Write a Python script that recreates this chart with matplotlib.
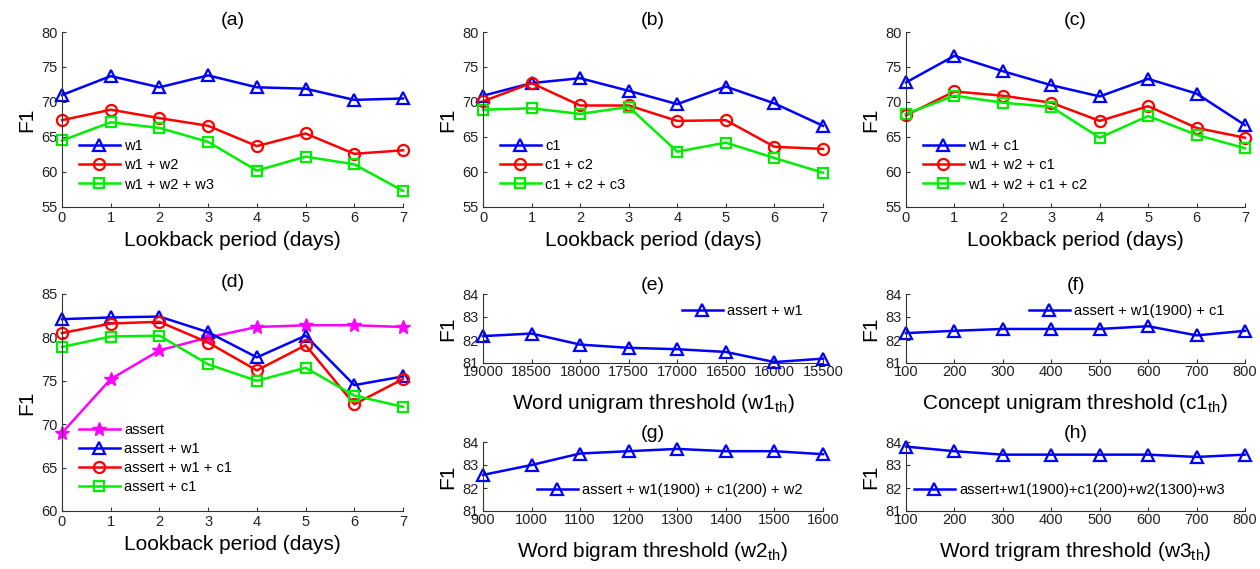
import numpy as np
import matplotlib
matplotlib.use("Agg")
import matplotlib.pyplot as plt

plt.rcParams['font.family'] = ['Liberation Sans', 'DejaVu Sans']

# ---- data ----
days = [0, 1, 2, 3, 4, 5, 6, 7]

a_w1 = [71.0, 73.7, 72.1, 73.8, 72.1, 71.9, 70.3, 70.5]
a_w1w2 = [67.4, 68.9, 67.7, 66.6, 63.7, 65.5, 62.6, 63.1]
a_w1w2w3 = [64.5, 67.1, 66.3, 64.3, 60.2, 62.2, 61.1, 57.3]

b_c1 = [70.9, 72.7, 73.4, 71.6, 69.7, 72.2, 69.8, 66.6]
b_c1c2 = [70.1, 72.7, 69.5, 69.5, 67.3, 67.4, 63.6, 63.3]
b_c1c2c3 = [68.9, 69.1, 68.3, 69.3, 62.9, 64.2, 62.0, 59.9]

c_w1c1 = [72.8, 76.6, 74.4, 72.4, 70.8, 73.3, 71.2, 66.7]
c_w1w2c1 = [68.1, 71.5, 70.9, 69.9, 67.3, 69.4, 66.3, 64.9]
c_w1w2c1c2 = [68.3, 70.9, 69.9, 69.3, 64.9, 68.0, 65.3, 63.4]

d_assert = [69.0, 75.2, 78.5, 80.0, 81.2, 81.4, 81.4, 81.2]
d_assert_w1 = [82.1, 82.3, 82.4, 80.6, 77.7, 80.2, 74.5, 75.5]
d_assert_w1c1 = [80.5, 81.6, 81.8, 79.4, 76.2, 79.1, 72.3, 75.2]
d_assert_c1 = [78.9, 80.1, 80.2, 76.9, 75.0, 76.5, 73.3, 72.0]

e_thr = [19000, 18500, 18000, 17500, 17000, 16500, 16000, 15500]
e_f1 = [82.17, 82.28, 81.80, 81.66, 81.60, 81.48, 81.04, 81.19]

f_thr = [100, 200, 300, 400, 500, 600, 700, 800]
f_f1 = [82.30, 82.40, 82.48, 82.48, 82.48, 82.60, 82.20, 82.40]

g_thr = [900, 1000, 1100, 1200, 1300, 1400, 1500, 1600]
g_f1 = [82.57, 83.00, 83.50, 83.60, 83.70, 83.60, 83.60, 83.47]

h_thr = [100, 200, 300, 400, 500, 600, 700, 800]
h_f1 = [83.80, 83.60, 83.45, 83.45, 83.45, 83.45, 83.35, 83.45]

BLUE, RED, GREEN, MAG = '#0000ff', '#ff0000', '#00ee00', '#ff00ff'
W, H = 1260, 569

fig = plt.figure(figsize=(W / 100, H / 100), dpi=100)


def make_ax(left, top, right, bottom, xpad=3):
    ax = fig.add_axes([left / W, 1 - bottom / H, (right - left) / W, (bottom - top) / H])
    for s in ['top', 'right']:
        ax.spines[s].set_visible(False)
    for s in ['left', 'bottom']:
        ax.spines[s].set_color('#333333')
        ax.spines[s].set_linewidth(0.8)
    ax.tick_params(direction='in', length=3, labelsize=10.5, colors='#333333',
                   labelcolor='#222222', pad=3)
    ax.tick_params(axis='x', pad=xpad)
    ax.set_ylabel('F1', fontsize=15, labelpad=4)
    return ax


def line(ax, x, y, color, marker, label, ms=8):
    ax.plot(x, y, color=color, marker=marker, markersize=ms, markerfacecolor='none',
            markeredgewidth=1.6, linewidth=1.8, label=label, clip_on=False)


def legend(ax, **kw):
    ax.legend(frameon=False, fontsize=10.5, handlelength=2.8, handletextpad=0.3,
              labelspacing=0.35, borderpad=0.2, **kw)


# (a)
ax = make_ax(62, 32, 403, 207)
line(ax, days, a_w1, BLUE, '^', 'w1')
line(ax, days, a_w1w2, RED, 'o', 'w1 + w2')
line(ax, days, a_w1w2w3, GREEN, 's', 'w1 + w2 + w3', ms=7)
ax.set_xlim(0, 7); ax.set_ylim(55, 80)
ax.set_yticks([55, 60, 65, 70, 75, 80]); ax.set_xticks(days)
ax.set_title('(a)', fontsize=14, pad=5)
ax.set_xlabel('Lookback period (days)', fontsize=15, labelpad=4)
legend(ax, loc='lower left', bbox_to_anchor=(0.02, 0.03))

# (b)
ax = make_ax(483, 32, 823, 207)
line(ax, days, b_c1, BLUE, '^', 'c1')
line(ax, days, b_c1c2, RED, 'o', 'c1 + c2')
line(ax, days, b_c1c2c3, GREEN, 's', 'c1 + c2 + c3', ms=7)
ax.set_xlim(0, 7); ax.set_ylim(55, 80)
ax.set_yticks([55, 60, 65, 70, 75, 80]); ax.set_xticks(days)
ax.set_title('(b)', fontsize=14, pad=5)
ax.set_xlabel('Lookback period (days)', fontsize=15, labelpad=4)
legend(ax, loc='lower left', bbox_to_anchor=(0.02, 0.03))

# (c)
ax = make_ax(906, 32, 1245, 207)
line(ax, days, c_w1c1, BLUE, '^', 'w1 + c1')
line(ax, days, c_w1w2c1, RED, 'o', 'w1 + w2 + c1')
line(ax, days, c_w1w2c1c2, GREEN, 's', 'w1 + w2 + c1 + c2', ms=7)
ax.set_xlim(0, 7); ax.set_ylim(55, 80)
ax.set_yticks([55, 60, 65, 70, 75, 80]); ax.set_xticks(days)
ax.set_title('(c)', fontsize=14, pad=5)
ax.set_xlabel('Lookback period (days)', fontsize=15, labelpad=4)
legend(ax, loc='lower left', bbox_to_anchor=(0.02, 0.03))

# (d)
ax = make_ax(62, 294, 403, 511)
ax.plot(days, d_assert, color=MAG, marker='*', markersize=10, linewidth=1.8,
        label='assert', clip_on=False)
line(ax, days, d_assert_w1, BLUE, '^', 'assert + w1')
line(ax, days, d_assert_w1c1, RED, 'o', 'assert + w1 + c1')
line(ax, days, d_assert_c1, GREEN, 's', 'assert + c1', ms=7)
ax.set_xlim(0, 7); ax.set_ylim(60, 85)
ax.set_yticks([60, 65, 70, 75, 80, 85]); ax.set_xticks(days)
ax.set_title('(d)', fontsize=14, pad=5)
ax.set_xlabel('Lookback period (days)', fontsize=15, labelpad=4)
legend(ax, loc='lower left', bbox_to_anchor=(0.02, 0.03))

# (e)
ax = make_ax(483, 294, 823, 363, xpad=1.5)
line(ax, e_thr, e_f1, BLUE, '^', 'assert + w1')
ax.set_xlim(19000, 15500); ax.set_ylim(81, 84)
ax.set_yticks([81, 82, 83, 84]); ax.set_xticks(e_thr)
ax.set_title('(e)', fontsize=14, pad=3)
ax.set_xlabel('Word unigram threshold (w1$_{\\mathregular{th}}$)', fontsize=15, labelpad=9)
legend(ax, loc='upper right', bbox_to_anchor=(0.97, 1.0))

# (g)
ax = make_ax(483, 442, 823, 511, xpad=1.5)
line(ax, g_thr, g_f1, BLUE, '^', 'assert + w1(1900) + c1(200) + w2')
ax.set_xlim(900, 1600); ax.set_ylim(81, 84)
ax.set_yticks([81, 82, 83, 84]); ax.set_xticks(g_thr)
ax.set_title('(g)', fontsize=14, pad=3)
ax.set_xlabel('Word bigram threshold (w2$_{\\mathregular{th}}$)', fontsize=15, labelpad=9)
legend(ax, loc='lower right', bbox_to_anchor=(0.97, 0.05))

# (f)
ax = make_ax(906, 294, 1245, 363, xpad=1.5)
line(ax, f_thr, f_f1, BLUE, '^', 'assert + w1(1900) + c1')
ax.set_xlim(100, 800); ax.set_ylim(81, 84)
ax.set_yticks([81, 82, 83, 84]); ax.set_xticks(f_thr)
ax.set_title('(f)', fontsize=14, pad=3)
ax.set_xlabel('Concept unigram threshold (c1$_{\\mathregular{th}}$)', fontsize=15, labelpad=9)
legend(ax, loc='upper right', bbox_to_anchor=(0.97, 1.0))

# (h)
ax = make_ax(906, 442, 1245, 511, xpad=1.5)
line(ax, h_thr, h_f1, BLUE, '^', 'assert+w1(1900)+c1(200)+w2(1300)+w3')
ax.set_xlim(100, 800); ax.set_ylim(81, 84)
ax.set_yticks([81, 82, 83, 84]); ax.set_xticks(h_thr)
ax.set_title('(h)', fontsize=14, pad=3)
ax.set_xlabel('Word trigram threshold (w3$_{\\mathregular{th}}$)', fontsize=15, labelpad=9)
legend(ax, loc='lower right', bbox_to_anchor=(0.97, 0.05))

fig.savefig('out.png', dpi=100)
